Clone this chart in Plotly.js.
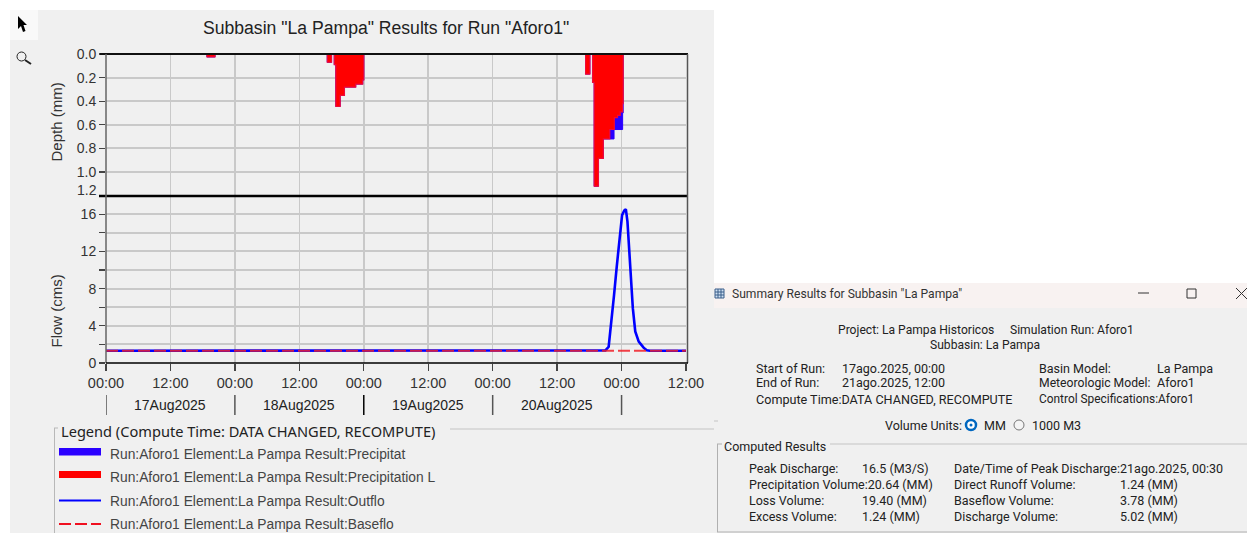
<!DOCTYPE html>
<html>
<head>
<meta charset="utf-8">
<script src="https://cdn.plot.ly/plotly-3.0.1.min.js"></script>
<style>html,body{margin:0;padding:0;background:#fff;overflow:hidden}#c{width:1247px;height:533px}</style>
</head>
<body>
<div id="c"></div>
<script>
// Hours since 17Aug2025 00:00
const precipHours = [0,18.8,20.3,41.2,42,42.5,42.8,43.6,44.4,46.5,47.8,48,89.3,90.1,90.6,90.9,91.7,92.6,94.6,96.2,96.3,108];
const precipDepth = [0,0.025,0,0.07,0,0.09,0.445,0.35,0.28,0.255,0.22,0,0.17,0,0.24,1.12,0.885,0.72,0.64,0.5,0,0];
const lossHours = [0,18.8,20.3,41.2,42,42.5,42.8,43.6,44.4,46.5,47.8,48,89.3,90.1,90.6,90.9,91.7,92.6,93.8,94.65,95.25,95.75,96.2,96.3,108];
const lossDepth = [0,0.025,0,0.07,0,0.09,0.445,0.35,0.28,0.255,0.22,0,0.17,0,0.24,1.12,0.885,0.72,0.64,0.54,0.52,0.49,0.42,0,0];
const outflowHours = [0,93,93.6,94,94.6,95.1,95.75,96.1,96.5,96.8,97.1,97.6,98.1,98.55,99.2,100.1,100.7,101.3,108];
const outflowCms = [1.32,1.35,1.75,3.7,7.3,10.35,14.5,15.9,16.4,16.55,15.2,9.8,5.9,3.4,2.3,1.65,1.38,1.32,1.32];
const baseflowHours = [0,108];
const baseflowCms = [1.32,1.32];
const depthTicks = [0,0.2,0.4,0.6,0.8,1.0,1.2];
const depthLabels = ['0.0','0.2','0.4','0.6','0.8','1.0',''];
const flowTicks = [0,2,4,6,8,10,12,14,16];
const flowLabels = ['0','','4','','8','','12','','16'];
const dayLabels = ['17Aug2025','18Aug2025','19Aug2025','20Aug2025'];
const legendNames = ['Run:Aforo1 Element:La Pampa Result:Precipitat','Run:Aforo1 Element:La Pampa Result:Precipitation L','Run:Aforo1 Element:La Pampa Result:Outflo','Run:Aforo1 Element:La Pampa Result:Baseflo'];

const W = 1247, H = 533;
const T0 = Date.UTC(2025,7,17,0,0);
const hrs = a => a.map(h => T0 + h*3600000);
const px = x => x/W, py = y => 1 - y/H;
const SANS = 'Liberation Sans, Arial, sans-serif', UI = 'Roboto, sans-serif';
const annotations = [], shapes = [];
function txt(text,x,y,o={}){annotations.push({text,x:px(x),y:py(y),xref:'paper',yref:'paper',showarrow:false,xanchor:o.a||'left',yanchor:'middle',textangle:o.rot||0,
  font:{family:o.f||UI,size:o.s||12.5,color:o.c||'#222'},borderpad:0,borderwidth:0});}
function rect(x0,y0,x1,y1,fill,o={}){shapes.push({type:'rect',xref:'paper',yref:'paper',x0:px(x0),x1:px(x1),y0:py(y0),y1:py(y1),fillcolor:fill,line:{width:o.w||0,color:o.lc||fill},layer:o.layer||'below'});}
function seg(x0,y0,x1,y1,color,w,o={}){shapes.push({type:'line',xref:'paper',yref:'paper',x0:px(x0),x1:px(x1),y0:py(y0),y1:py(y1),line:{color,width:w,dash:o.dash||'solid'},layer:o.layer||'above'});}
function poly(pts,fill){shapes.push({type:'path',xref:'paper',yref:'paper',path:'M'+pts.map(p=>px(p[0])+' '+py(p[1])).join('L')+'Z',fillcolor:fill,line:{width:0},layer:'above'});}

// backgrounds
rect(10,10,714,533,'#f0f0f0');
rect(10,10,38,40,'#f9f9f9');
rect(714,308,1247,533,'#f0f0f0');
rect(714,283,1247,308,'#f8f2f1');

// toolbar icons
poly([[18,16],[18,29],[21,26],[23,32],[25.5,31],[23.5,25],[27,25]],'#000');
shapes.push({type:'circle',xref:'paper',yref:'paper',x0:px(17),x1:px(26),y0:py(52),y1:py(61),line:{color:'#222',width:1},fillcolor:'rgba(0,0,0,0)',layer:'above'});
seg(25,60,31,64,'#222',2);

// plot frame
seg(100,54,688,54,'#111',2);
seg(99,196,688,196,'#000',2.5);
seg(106,54,106,363,'#666',1.5);
seg(687.5,54,687.5,363,'#555',1.5);
seg(106,363,688,363,'#000',1.3);

// date row
[0,24,48,72,96].forEach((h,i)=>{
  const c = i===2 ? '#000' : '#555';
  shapes.push({type:'line',xref:'x',yref:'paper',x0:T0+h*3600000,x1:T0+h*3600000,y0:py(395),y1:py(415),line:{color:c,width:1.5},layer:'above'});
});
dayLabels.forEach((d,i)=>{
  annotations.push({text:d,x:T0+(12+24*i)*3600000,y:py(405),xref:'x',yref:'paper',showarrow:false,xanchor:'center',yanchor:'middle',font:{family:SANS,size:14,color:'#222'}});
});
txt('1.2',97,190,{f:SANS,s:14,c:'#333',a:'right'});
txt('Depth (mm)',56,122.5,{f:SANS,s:15,c:'#333',a:'center',rot:-90});
txt('Flow (cms)',56,311.5,{f:SANS,s:15,c:'#333',a:'center',rot:-90});

// title
txt('Subbasin "La Pampa" Results for Run "Aforo1"',386,27.5,{f:SANS,s:17.6,a:'center',c:'#222'});

// legend
seg(54.5,428,54.5,533,'#b8b8b8',1);
seg(54,428,58,428,'#b8b8b8',1);
seg(450,429,714,429,'#c4c4c4',1);
txt('Legend (Compute Time: DATA CHANGED, RECOMPUTE)',61,431,{f:'Noto Sans, sans-serif',s:14.6,c:'#222'});
rect(59,448,101,455.5,'#2a00ff',{layer:'above'});
rect(59,471,101,478,'#ff0000',{layer:'above'});
seg(59,500.5,101,500.5,'#0000ff',2.2);
seg(59,524,101,524,'#f01020',2,{dash:'12px,4px'});
[454,477,501,524].forEach((y,i)=>txt(legendNames[i],109.5,y,{f:SANS,s:13.8,c:'#444'}));

// summary window
shapes.push({type:'rect',xref:'paper',yref:'paper',x0:px(715),x1:px(724),y0:py(289),y1:py(298),fillcolor:'#cfe0f2',line:{color:'#3a5f8a',width:1},layer:'above'});
seg(715,292,724,292,'#3a5f8a',1); seg(715,295,724,295,'#3a5f8a',1); seg(718,289,718,298,'#3a5f8a',1); seg(721,289,721,298,'#3a5f8a',1);
txt('Summary Results for Subbasin "La Pampa"',732,294,{s:12.1,c:'#333'});
seg(1138,293,1149,293,'#333',1);
shapes.push({type:'rect',xref:'paper',yref:'paper',x0:px(1187),x1:px(1196),y0:py(289),y1:py(298),fillcolor:'rgba(0,0,0,0)',line:{color:'#333',width:1},layer:'above'});
seg(1236,288,1247,299,'#333',1); seg(1236,299,1247,288,'#333',1);

const summaryHeader = [['Project: La Pampa Historicos',838,330,12.1],['Simulation Run: Aforo1',1010,330,12.1],['Subbasin: La Pampa',930,345,12.1]];
const summaryRun = [
 ['Start of Run:',756,368],['17ago.2025, 00:00',842,368],['Basin Model:',1039,368],['La Pampa',1157,368],
 ['End of Run:',756,383],['21ago.2025, 12:00',842,383],['Meteorologic Model:',1039,383,12.2],['Aforo1',1157,383],
 ['Compute Time:DATA CHANGED, RECOMPUTE',756,399,12.6],['Control Specifications:Aforo1',1039,399,11.9]];
const summaryResults = [
 ['Peak Discharge:',749,468],['16.5 (M3/S)',862,468],['Date/Time of Peak Discharge:21ago.2025, 00:30',954,468],
 ['Precipitation Volume:20.64 (MM)',749,484],['Direct Runoff Volume:',954,484],['1.24 (MM)',1120,484],
 ['Loss Volume:',749,500],['19.40 (MM)',862,500],['Baseflow Volume:',954,500],['3.78 (MM)',1120,500],
 ['Excess Volume:',749,516],['1.24 (MM)',862,516],['Discharge Volume:',954,516],['5.02 (MM)',1120,516]];
[...summaryHeader,...summaryRun,...summaryResults].forEach(r=>txt(r[0],r[1],r[2],{s:r[3]||12.5}));
txt('Volume Units:',885,425); txt('MM',984,425); txt('1000 M3',1032,425);
shapes.push({type:'circle',xref:'paper',yref:'paper',x0:px(966),x1:px(976),y0:py(420),y1:py(430),fillcolor:'#fff',line:{color:'#0067c0',width:2.5},layer:'above'});
shapes.push({type:'circle',xref:'paper',yref:'paper',x0:px(969.5),x1:px(972.5),y0:py(423.5),y1:py(426.5),fillcolor:'#0067c0',line:{width:0},layer:'above'});
shapes.push({type:'circle',xref:'paper',yref:'paper',x0:px(1014),x1:px(1024),y0:py(420),y1:py(430),fillcolor:'#f4f4f4',line:{color:'#777',width:1},layer:'above'});
// computed results box
txt('Computed Results',724,446);
seg(717.5,444,717.5,532,'#b0b0b0',1); seg(717,444,722,444,'#b0b0b0',1); seg(830,444,1247,444,'#c4c4c4',1); seg(717,532,1247,532,'#b0b0b0',1);
seg(714,421,718,421,'#c4c4c4',1);

const traces = [
 {x:hrs(precipHours),y:precipDepth,xaxis:'x',yaxis:'y',type:'scatter',mode:'lines',line:{shape:'hv',color:'#2a00ff',width:1},fill:'tozeroy',fillcolor:'#2a00ff',name:'Precipitation',hoverinfo:'x+y'},
 {x:hrs(lossHours),y:lossDepth,xaxis:'x',yaxis:'y',type:'scatter',mode:'lines',line:{shape:'hv',color:'#f0083a',width:1.2},fill:'tozeroy',fillcolor:'#ff0000',name:'Precipitation Loss',hoverinfo:'x+y'},
 {x:hrs(outflowHours),y:outflowCms,xaxis:'x',yaxis:'y2',type:'scatter',mode:'lines',line:{color:'#0000ff',width:2.6},name:'Outflow',hoverinfo:'x+y'},
 {x:hrs(baseflowHours),y:baseflowCms,xaxis:'x',yaxis:'y2',type:'scatter',mode:'lines',line:{color:'rgba(240,30,40,0.85)',width:2.2,dash:'12px,4px'},name:'Baseflow',hoverinfo:'x+y'}
];
const GRID = '#c9c9c9';
const layout = {
 width:W,height:H,margin:{l:0,r:0,t:0,b:0},paper_bgcolor:'#ffffff',plot_bgcolor:'rgba(0,0,0,0)',showlegend:false,
 xaxis:{type:'date',domain:[px(106),px(686)],range:[T0,T0+108*3600000],anchor:'y2',dtick:43200000,tick0:T0,tickformat:'%H:%M',ticks:'outside',ticklen:7,tickcolor:'#444',tickwidth:1.3,
   tickfont:{family:SANS,size:14.5,color:'#333'},showgrid:true,gridcolor:GRID,gridwidth:1.5,zeroline:false,showline:false,automargin:false},
 yaxis:{domain:[py(195.6),py(54)],range:[1.2,0],anchor:'x',tickmode:'array',tickvals:depthTicks,ticktext:depthLabels,ticks:'outside',ticklen:6,tickcolor:'#444',tickwidth:1.3,
   tickfont:{family:SANS,size:14,color:'#333'},showgrid:true,gridcolor:GRID,gridwidth:2,zeroline:false,showline:false,automargin:false},
 yaxis2:{domain:[py(363),py(196)],range:[0,17.96],anchor:'x',tickmode:'array',tickvals:flowTicks,ticktext:flowLabels,ticks:'outside',ticklen:6,tickcolor:'#444',tickwidth:1.3,
   tickfont:{family:SANS,size:14,color:'#333'},showgrid:true,gridcolor:GRID,gridwidth:2,zeroline:false,showline:false,automargin:false},
 annotations,shapes
};
Plotly.newPlot('c',traces,layout,{displayModeBar:false,staticPlot:true});
</script>
</body>
</html>
